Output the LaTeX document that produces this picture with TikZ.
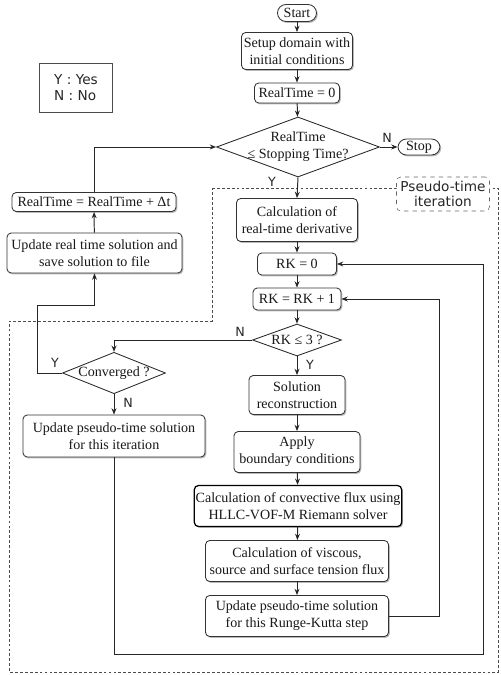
\documentclass[tikz,border=0pt]{standalone}
\usepackage{fontspec}
\setmainfont{Liberation Serif}
\newfontfamily\notefont{DejaVu Sans}
\usetikzlibrary{shapes.geometric,shadows,arrows.meta}

\tikzset{
  flowbox/.style={rectangle, rounded corners=3pt, draw=black!80, line width=0.6pt, fill=white,
    drop shadow={shadow xshift=0.9pt, shadow yshift=-1pt, opacity=0.55},
    align=center, inner sep=1pt, text=black!90},
  endbox/.style={flowbox, rounded corners=6pt},
  decision/.style={diamond, draw=black!85, line width=0.6pt, fill=white, align=center, inner sep=0pt, text=black!90},
  flowline/.style={draw=black!85, line width=0.7pt, -{Stealth[length=4.5pt,width=3.5pt]}},
  ynlabel/.style={font=\notefont\fontsize{9}{10}\selectfont, text=black!85},
  notebox/.style={font=\notefont\fontsize{9.7}{11.2}\selectfont, text=black!85}
}

\begin{document}
\begin{tikzpicture}[x=0.025cm, y=-0.025cm]
    % one unit is one pixel of the sketch
    \def\px{0.025cm}
    \useasboundingbox (0,0) rectangle (500,675);

    % Pseudo-time region
    \draw[black!70, line width=0.6pt, dash pattern=on 2pt off 1.5pt]
        (212,188) -- (498,188) -- (498,672) -- (9,672) -- (9,321) -- (212,321) -- cycle;
    \node[notebox, draw=black!60, dashed, rounded corners=3pt, fill=white, align=center,
        minimum width=93*\px, minimum height=34*\px, inner sep=0pt] (pseudo) at (443,194) {Pseudo-time\\iteration};

    % Legend
    \node[notebox, draw=black!70, line width=0.6pt, align=left, minimum width=73*\px, minimum height=49*\px] (legend) at (76,88) {Y : Yes\\N : No};

    % Real-time loop
    \node[endbox, minimum width=39*\px, minimum height=17*\px] (start) at (297,13) {Start};
    \node[flowbox, minimum width=111*\px, minimum height=37*\px] (setup) at (297,51) {Setup domain with\\initial conditions};
    \node[flowbox, minimum width=85*\px, minimum height=20*\px] (rtzero) at (297,93) {RealTime = 0};
    \node[decision, aspect=2.72, inner sep=-2.5pt, minimum width=163*\px, minimum height=60*\px] (rtcheck) at (298,147) {RealTime\\≤ Stopping Time?};
    \node[endbox, minimum width=42*\px, minimum height=16*\px] (stop) at (419,147) {Stop};
    \node[flowbox, minimum width=164*\px, minimum height=19*\px] (rtinc) at (94,202) {RealTime = RealTime + Δt};
    \node[flowbox, minimum width=175*\px, minimum height=40*\px] (rtupd) at (94.5,253) {Update real time solution and\\save solution to file};

    % Pseudo-time loop
    \node[flowbox, minimum width=121*\px, minimum height=43*\px] (deriv) at (297,220) {Calculation of\\real-time derivative};
    \node[flowbox, minimum width=79*\px, minimum height=22*\px] (rkzero) at (297,264) {RK = 0};
    \node[flowbox, minimum width=88*\px, minimum height=22*\px] (rkinc) at (297,299) {RK = RK + 1};
    \node[decision, aspect=2.78, minimum width=89*\px, minimum height=32*\px] (rkcheck) at (297,340) {RK ≤ 3 ?};
    \node[decision, aspect=2.49, minimum width=102*\px, minimum height=41*\px] (conv) at (114,373) {Converged ?};
    \node[flowbox, minimum width=182*\px, minimum height=42*\px] (pupd) at (114,436) {Update pseudo-time solution\\for this iteration};

    % Runge-Kutta step
    \node[flowbox, minimum width=96*\px, minimum height=39*\px] (recon) at (297,395) {Solution\\reconstruction};
    \node[flowbox, minimum width=126*\px, minimum height=41*\px] (bc) at (297,452) {Apply\\boundary conditions};
    \node[flowbox, draw=black, line width=0.9pt, minimum width=206*\px, minimum height=41*\px] (flux) at (298,506) {Calculation of convective flux using\\HLLC-VOF-M Riemann solver};
    \node[flowbox, minimum width=183*\px, minimum height=41*\px] (visc) at (297,561) {Calculation of viscous,\\source and surface tension flux};
    \node[flowbox, minimum width=183*\px, minimum height=41*\px] (rkupd) at (297,616) {Update pseudo-time solution\\for this Runge-Kutta step};

    % Corners of the loops
    \coordinate (rkloop) at (439,0);
    \coordinate (realloop) at (37,305);
    \coordinate (pseudoloop) at (483,654);

    % Connectors
    \draw[flowline] (start) -- (setup);
    \draw[flowline] (setup) -- (rtzero);
    \draw[flowline] (rtzero) -- (rtcheck);
    \draw[flowline] (rtcheck.east) -- (stop.west);
    \draw[flowline] (rtcheck.south) -- (deriv.north);
    \draw[flowline] (deriv) -- (rkzero);
    \draw[flowline] (rkzero) -- (rkinc);
    \draw[flowline] (rkinc) -- (rkcheck);
    \draw[flowline] (rkcheck.south) -- (recon.north);
    \draw[flowline] (recon) -- (bc);
    \draw[flowline] (bc) -- (flux);
    \draw[flowline] (flux) -- (visc);
    \draw[flowline] (visc) -- (rkupd);
    \draw[flowline] (rkupd.east) -| (rkloop |- rkinc.east) -- (rkinc.east);
    \draw[flowline] (rkcheck.west) -| (conv.north);
    \draw[flowline] (conv.south) -- (pupd.north);
    \draw[flowline] (pupd.south) |- (pseudoloop) |- (rkzero.east);
    \draw[flowline] (conv.west) -| (realloop) -| (rtupd.south);
    \draw[flowline] (rtupd) -- (rtinc);
    \draw[flowline] (rtinc.north) |- (rtcheck.west);

    % Yes / No labels
    \node[ynlabel] (nstop) at (387,138) {N};
    \node[ynlabel] (yderiv) at (272,182) {Y};
    \node[ynlabel] (nrk) at (240,332) {N};
    \node[ynlabel] (yrk) at (310,365) {Y};
    \node[ynlabel] (yconv) at (55,363) {Y};
    \node[ynlabel] (nconv) at (128,403) {N};

\end{tikzpicture}
\end{document}
